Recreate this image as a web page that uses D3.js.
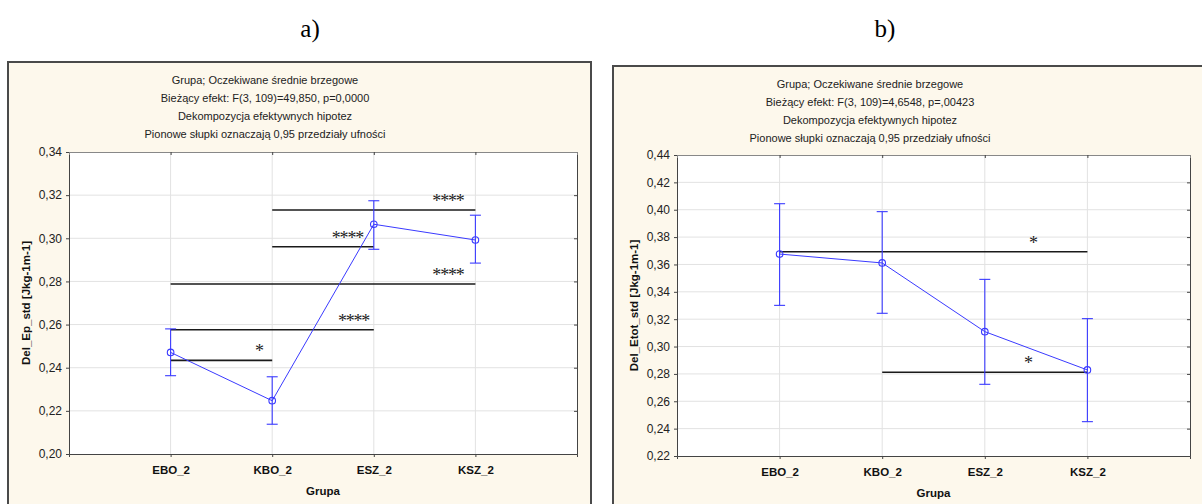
<!DOCTYPE html>
<html>
<head>
<meta charset="utf-8">
<script src="https://cdn.jsdelivr.net/npm/d3@7"></script>
<style>
  body { margin: 0; background: #fff; }
  svg { display: block; font-family: 'Liberation Sans', Arial, sans-serif; }
</style>
</head>
<body>
<svg id="chart" width="1202" height="504"></svg>
<script>
// categories shared by both panels
const categories = ['EBO_2', 'KBO_2', 'ESZ_2', 'KSZ_2'];

// panel a) Del_Ep_std
const epMeans = [0.2471, 0.2247, 0.3065, 0.2992];
const epLower = [0.2363, 0.2138, 0.2949, 0.2885];
const epUpper = [0.2580, 0.2358, 0.3174, 0.3107];
const epTicks = [0.20, 0.22, 0.24, 0.26, 0.28, 0.30, 0.32, 0.34];
const epTitle = [
  'Grupa; Oczekiwane średnie brzegowe',
  'Bieżący efekt: F(3, 109)=49,850, p=0,0000',
  'Dekompozycja efektywnych hipotez',
  'Pionowe słupki oznaczają 0,95 przedziały ufności',
];
// significance bars: from/to category, level, label, label position (category units)
const epSig = [
  { from: 'KBO_2', to: 'KSZ_2', value: 0.3131, label: '****', at: 3.73 },
  { from: 'KBO_2', to: 'ESZ_2', value: 0.2961, label: '****', at: 2.74 },
  { from: 'EBO_2', to: 'KSZ_2', value: 0.2788, label: '****', at: 3.73 },
  { from: 'EBO_2', to: 'ESZ_2', value: 0.2576, label: '****', at: 2.8 },
  { from: 'EBO_2', to: 'KBO_2', value: 0.2434, label: '*', at: 1.87 },
];

// panel b) Del_Etot_std
const etMeans = [0.3676, 0.3611, 0.3109, 0.2829];
const etLower = [0.3301, 0.3243, 0.2724, 0.2451];
const etUpper = [0.4044, 0.3986, 0.3491, 0.3204];
const etTicks = [0.22, 0.24, 0.26, 0.28, 0.30, 0.32, 0.34, 0.36, 0.38, 0.40, 0.42, 0.44];
const etTitle = [
  'Grupa; Oczekiwane średnie brzegowe',
  'Bieżący efekt: F(3, 109)=4,6548, p=,00423',
  'Dekompozycja efektywnych hipotez',
  'Pionowe słupki oznaczają 0,95 przedziały ufności',
];
const etSig = [
  { from: 'EBO_2', to: 'KSZ_2', value: 0.3693, label: '*', at: 3.47 },
  { from: 'KBO_2', to: 'KSZ_2', value: 0.2812, label: '*', at: 3.42 },
];

const BLUE = '#3a3aff';
const comma = d3.formatLocale({ decimal: ',', thousands: ' ', grouping: [3], currency: ['', ''] });
const fmt = comma.format('.2f');

const svg = d3.select('#chart');

function drawPanel(cfg) {
  const { frame, plot, means, lower, upper, ticks, title, sig, yLabel, caption } = cfg;
  const g = svg.append('g');

  // caption a) / b)
  g.append('text')
    .attr('x', caption.x).attr('y', 37)
    .attr('text-anchor', 'middle')
    .attr('font-family', "'Liberation Serif', 'Times New Roman', serif")
    .attr('font-size', 25)
    .attr('fill', '#000')
    .text(caption.text);

  // frame
  g.append('rect')
    .attr('x', frame.x).attr('y', frame.y)
    .attr('width', frame.w).attr('height', frame.h)
    .attr('fill', '#fdf8ec')
    .attr('stroke', '#4a4a4a')
    .attr('stroke-width', 2);

  // title lines
  g.append('g')
    .selectAll('text')
    .data(title)
    .join('text')
    .attr('x', frame.x + 257)
    .attr('y', (d, i) => frame.y + 22 + i * 18)
    .attr('text-anchor', 'middle')
    .attr('font-size', 11)
    .attr('fill', '#222')
    .text((d) => d);

  const x = d3.scaleLinear().domain([0, categories.length + 1]).range([plot.left, plot.right]);
  const y = d3.scaleLinear().domain(d3.extent(ticks)).range([plot.bottom, plot.top]);
  const cx = (c) => x(categories.indexOf(c) + 1);

  // plot area
  g.append('rect')
    .attr('x', plot.left).attr('y', plot.top)
    .attr('width', plot.right - plot.left).attr('height', plot.bottom - plot.top)
    .attr('fill', '#fff');

  // grid
  g.append('g')
    .selectAll('line')
    .data(ticks.slice(1, -1))
    .join('line')
    .attr('x1', plot.left).attr('x2', plot.right)
    .attr('y1', (d) => y(d)).attr('y2', (d) => y(d))
    .attr('stroke', '#e2e2e2');
  g.append('g')
    .selectAll('line')
    .data(categories)
    .join('line')
    .attr('x1', (d) => cx(d)).attr('x2', (d) => cx(d))
    .attr('y1', plot.top).attr('y2', plot.bottom)
    .attr('stroke', '#e2e2e2');

  // axes
  const axisY = d3.axisLeft(y).tickValues(ticks).tickFormat(fmt).tickSize(3).tickPadding(4);
  const gy = g.append('g').attr('transform', `translate(${plot.left},0)`).call(axisY);
  gy.select('.domain').attr('stroke', '#444');
  gy.selectAll('.tick line').attr('stroke', '#444');
  gy.selectAll('.tick text')
    .attr('font-size', 12).attr('fill', '#222')
    .attr('font-family', "'Liberation Sans', Arial, sans-serif");

  const gyr = g.append('g').attr('transform', `translate(${plot.right},0)`)
    .call(d3.axisLeft(y).tickValues(ticks).tickFormat('').tickSize(3));
  gyr.select('.domain').attr('stroke', '#444');
  gyr.selectAll('.tick line').attr('stroke', '#444');

  const axisX = d3.axisBottom(x).tickValues(categories.map((c, i) => i + 1))
    .tickFormat((d) => categories[d - 1]).tickSize(3).tickPadding(9);
  const gx = g.append('g').attr('transform', `translate(0,${plot.bottom})`).call(axisX);
  gx.select('.domain').attr('stroke', '#444');
  gx.selectAll('.tick line').attr('stroke', '#444');
  gx.selectAll('.tick text')
    .attr('font-size', 11.5).attr('font-weight', 'bold').attr('fill', '#111')
    .attr('font-family', "'Liberation Sans', Arial, sans-serif");

  const gxt = g.append('g').attr('transform', `translate(0,${plot.top})`)
    .call(d3.axisBottom(x).tickValues(categories.map((c, i) => i + 1)).tickFormat('').tickSize(3));
  gxt.select('.domain').attr('stroke', '#888');
  gxt.selectAll('.tick line').attr('stroke', '#444');

  // axis titles
  g.append('text')
    .attr('x', (plot.left + plot.right) / 2).attr('y', plot.bottom + 41)
    .attr('text-anchor', 'middle')
    .attr('font-size', 11.5).attr('font-weight', 'bold').attr('fill', '#111')
    .text('Grupa');
  g.append('text')
    .attr('transform', `translate(${plot.left - 39},${(plot.top + plot.bottom) / 2}) rotate(-90)`)
    .attr('text-anchor', 'middle')
    .attr('font-size', 11.5).attr('font-weight', 'bold').attr('fill', '#111')
    .text(yLabel);

  // significance bars
  const sg = g.append('g');
  sg.selectAll('line')
    .data(sig)
    .join('line')
    .attr('x1', (d) => cx(d.from)).attr('x2', (d) => cx(d.to))
    .attr('y1', (d) => y(d.value)).attr('y2', (d) => y(d.value))
    .attr('stroke', '#1a1a1a').attr('stroke-width', 1.6);
  sg.selectAll('text')
    .data(sig)
    .join('text')
    .attr('x', (d) => x(d.at))
    .attr('y', (d) => y(d.value) - 3)
    .attr('text-anchor', 'middle')
    .attr('font-family', "'Liberation Serif', 'Times New Roman', serif")
    .attr('font-size', 18)
    .attr('letter-spacing', -1.2)
    .attr('fill', '#222')
    .text((d) => d.label);

  // error bars
  const eb = g.append('g').attr('stroke', BLUE).attr('stroke-width', 1.1).attr('fill', 'none');
  categories.forEach((c, i) => {
    const xc = cx(c);
    eb.append('line').attr('x1', xc).attr('x2', xc).attr('y1', y(lower[i])).attr('y2', y(upper[i]));
    eb.append('line').attr('x1', xc - 5.5).attr('x2', xc + 5.5).attr('y1', y(lower[i])).attr('y2', y(lower[i]));
    eb.append('line').attr('x1', xc - 5.5).attr('x2', xc + 5.5).attr('y1', y(upper[i])).attr('y2', y(upper[i]));
  });

  // means line + markers
  const line = d3.line().x((d, i) => cx(categories[i])).y((d) => y(d));
  g.append('path')
    .datum(means)
    .attr('d', line)
    .attr('fill', 'none')
    .attr('stroke', BLUE)
    .attr('stroke-width', 1);
  g.append('g')
    .selectAll('circle')
    .data(means)
    .join('circle')
    .attr('cx', (d, i) => cx(categories[i]))
    .attr('cy', (d) => y(d))
    .attr('r', 3.3)
    .attr('fill', 'none')
    .attr('stroke', BLUE)
    .attr('stroke-width', 1.1);
}

drawPanel({
  caption: { x: 310, text: 'a)' },
  frame: { x: 8, y: 62, w: 583, h: 460 },
  plot: { left: 69, top: 152, right: 577, bottom: 454 },
  means: epMeans, lower: epLower, upper: epUpper,
  ticks: epTicks, title: epTitle, sig: epSig,
  yLabel: 'Del_Ep_std [Jkg-1m-1]',
});

drawPanel({
  caption: { x: 885, text: 'b)' },
  frame: { x: 613, y: 66, w: 600, h: 460 },
  plot: { left: 677, top: 155, right: 1190, bottom: 456 },
  means: etMeans, lower: etLower, upper: etUpper,
  ticks: etTicks, title: etTitle, sig: etSig,
  yLabel: 'Del_Etot_std [Jkg-1m-1]',
});
</script>
</body>
</html>
